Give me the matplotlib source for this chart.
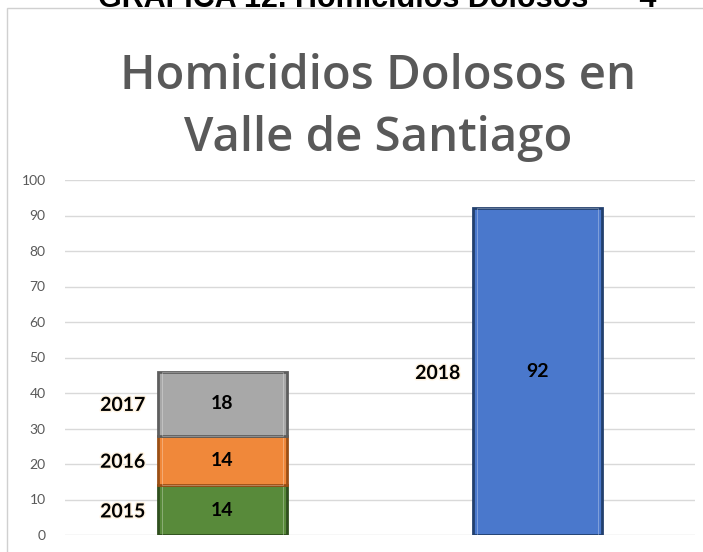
import matplotlib
matplotlib.use("Agg")
import matplotlib.pyplot as plt
from matplotlib.patches import Rectangle
import matplotlib.patheffects as pe

# data
groups = [0, 1]
series = ["2015", "2016", "2017", "2018"]
group_of = [0, 0, 0, 1]
values = [14, 14, 18, 92]
colors = ["#588a3a", "#f0883a", "#a8a8a8", "#4a78cc"]
edges = ["#2f4f1e", "#9a4f15", "#5e5e5e", "#22406e"]
yticks = [0, 10, 20, 30, 40, 50, 60, 70, 80, 90, 100]

fig = plt.figure(figsize=(7.03, 5.52), dpi=100)
fig.patch.set_facecolor("white")

# chart frame border
fig.add_artist(Rectangle((7 / 703, -0.01), 1.0, 1 - 8 / 552 + 0.01,
                         transform=fig.transFigure, fill=False,
                         edgecolor="#d0d0d0", linewidth=1))

# caption above the chart, cut off at the top edge as in the source image
fig.text(0.536, 1 - 7 / 552, "GRÁFICA 12. Homicidios Dolosos  –  4", ha="center", va="baseline",
         fontsize=22, fontweight="bold", color="black", family="Liberation Sans")

fig.text(0.538, 0.805, "Homicidios Dolosos en\nValle de Santiago", ha="center", va="center",
         fontsize=34, fontweight="semibold", color="#595959", family="Open Sans",
         linespacing=1.4)

ax = fig.add_axes([65 / 703, 1 - 535 / 552, 630 / 703, 355 / 552])
ax.set_xlim(-0.5, 1.5)
ax.set_ylim(0, 100)
ax.set_yticks(yticks)
ax.set_xticks([])
for s in ax.spines.values():
    s.set_visible(False)
ax.tick_params(axis="y", length=0, labelsize=10, labelcolor="#595959", pad=14)
for t in ax.get_yticklabels():
    t.set_family("Lato")
ax.yaxis.grid(True, color="#d9d9d9", linewidth=1)
ax.set_axisbelow(True)

bottoms = {0: 0, 1: 0}
width = 0.41
for name, g, v, c, ec in zip(series, group_of, values, colors, edges):
    b = bottoms[g]
    ax.bar(g, v, width=width, bottom=b, color=c, edgecolor=ec, linewidth=2)
    # faint bevel highlight inside the edge
    ax.bar(g, v, width=width * 0.93, bottom=b, color="none",
           edgecolor="white", linewidth=0.6, alpha=0.35)
    ax.text(g, b + v / 2, str(v), ha="center", va="center", fontsize=14,
            fontweight="bold", color="black", family="Lato")
    ax.text(g - width / 2 - 0.04, b + v / 2 - 0.5, name, ha="right", va="center",
            fontsize=14, fontweight="bold", color="black", family="Lato",
            path_effects=[pe.withStroke(linewidth=2, foreground="#fff3e0")])
    bottoms[g] = b + v

fig.savefig("out.png", dpi=100)
